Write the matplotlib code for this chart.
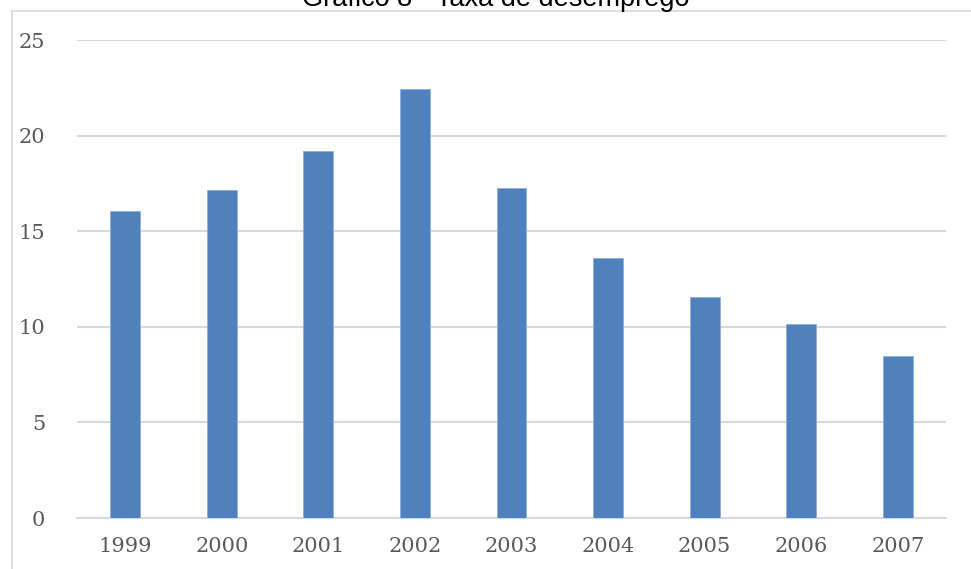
import matplotlib
matplotlib.use("Agg")
from matplotlib import pyplot as plt
from matplotlib.lines import Line2D
import numpy as np

# Taxa de desemprego por ano (%)
anos = ["1999", "2000", "2001", "2002", "2003", "2004", "2005", "2006", "2007"]
taxa = [16.07, 17.15, 19.2, 22.45, 17.25, 13.61, 11.57, 10.16, 8.49]
y_ticks = [0, 5, 10, 15, 20, 25]

W, H = 971, 569
fig = plt.figure(figsize=(W / 100, H / 100), dpi=100)
ax = fig.add_axes([77 / W, 1 - 518 / H, 869 / W, 478 / H])

x = np.arange(len(anos))
ax.bar(x, taxa, width=0.31, color="#4f81bd", edgecolor="#8eaedb",
       linewidth=0.6, zorder=3)

ax.set_xlim(-0.5, len(anos) - 0.5)
ax.set_ylim(0, 25)
ax.set_yticks(y_ticks)
ax.set_xticks(x)
ax.set_xticklabels(anos)
ax.yaxis.grid(True, color="#d9d9d9", linewidth=1.5, zorder=0)
for s in ["top", "right", "left"]:
    ax.spines[s].set_visible(False)
ax.spines["bottom"].set_color("#d9d9d9")
ax.spines["bottom"].set_linewidth(1.5)
ax.tick_params(length=0, labelsize=15, labelcolor="#595959")
ax.tick_params(axis="x", pad=14)
ax.tick_params(axis="y", pad=23)
for lbl in ax.get_xticklabels() + ax.get_yticklabels():
    lbl.set_fontfamily("DejaVu Serif")

# chart frame (only the top and left edges show)
fig.add_artist(Line2D([11.5 / W, 11.5 / W], [0, 1 - 11 / H], color="#d9d9d9",
                      linewidth=1.2, transform=fig.transFigure))
fig.add_artist(Line2D([11.5 / W, 1], [1 - 11 / H, 1 - 11 / H], color="#d9d9d9",
                      linewidth=1.2, transform=fig.transFigure))

fig.text(496 / W, 1 - 6 / H, "Gráfico 8 - Taxa de desemprego", ha="center",
         va="baseline", fontsize=19.5, family="Liberation Sans", color="#000000")

fig.savefig("out.png", dpi=100)
